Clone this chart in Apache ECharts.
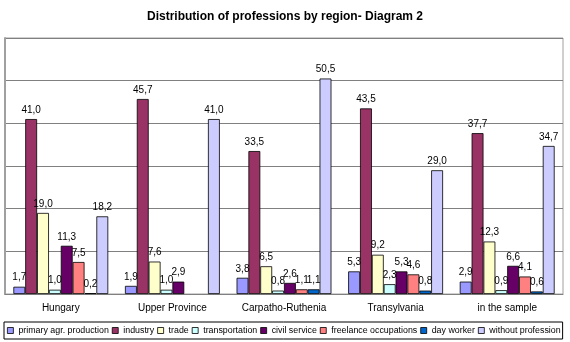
<!DOCTYPE html>
<html><head><meta charset="utf-8">
<script src="https://cdn.jsdelivr.net/npm/echarts@6/dist/echarts.min.js"></script>
<style>html,body{margin:0;padding:0;background:#fff}#c{width:570px;height:342px}</style>
</head><body><div id="c"></div>
<script>
const categories = ["Hungary", "Upper Province", "Carpatho-Ruthenia", "Transylvania", "in the sample"];
const seriesNames = ["primary agr. production", "industry", "trade", "transportation", "civil service", "freelance occupations", "day worker", "without profession"];
const primaryAgr = [1.7, 1.9, 3.8, 5.3, 2.9];
const industry = [41.0, 45.7, 33.5, 43.5, 37.7];
const trade = [19.0, 7.6, 6.5, 9.2, 12.3];
const transportation = [1.0, 1.0, 0.8, 2.3, 0.9];
const civilService = [11.3, 2.9, 2.6, 5.3, 6.6];
const freelance = [7.5, null, 1.1, 4.6, 4.1];
const dayWorker = [0.2, null, 1.1, 0.8, 0.6];
const withoutProfession = [18.2, 41.0, 50.5, 29.0, 34.7];
const colors = ["#9999FF", "#993366", "#FFFFCC", "#CCFFFF", "#660066", "#FF8080", "#0066CC", "#CCCCFF"];
const allData = [primaryAgr, industry, trade, transportation, civilService, freelance, dayWorker, withoutProfession];

const chart = echarts.init(document.getElementById('c'), null, {renderer: 'canvas'});
chart.setOption({
  animation: false,
  color: colors,
  title: {
    text: "Distribution of professions by region- Diagram 2",
    left: 'center', top: 6,
    textStyle: {fontFamily: 'Arial, Liberation Sans', fontSize: 12, fontWeight: 'bold', color: '#000'}
  },
  legend: {
    bottom: 3, left: 4, width: 700,
    itemWidth: 6, itemHeight: 6, itemGap: 3,
    icon: 'rect',
    borderColor: '#000', borderWidth: 1, padding: [4, 2, 4, 3],
    textStyle: {fontFamily: 'Arial, Liberation Sans', fontSize: 8.85, color: '#000'},
    itemStyle: {borderColor: '#000', borderWidth: 0.8},
    data: seriesNames
  },
  grid: {left: 5, right: 7, top: 38, bottom: 48, show: true, borderColor: '#a0a0a0', borderWidth: 1},
  xAxis: {
    type: 'category', data: categories,
    axisLine: {lineStyle: {color: '#808080'}},
    axisTick: {length: 4, lineStyle: {color: '#808080'}},
    axisLabel: {fontFamily: 'Arial, Liberation Sans', fontSize: 10, color: '#000', margin: 9}
  },
  yAxis: {
    type: 'value', min: 0, max: 60, interval: 10,
    axisLabel: {show: false},
    axisLine: {show: true, lineStyle: {color: '#a0a0a0', width: 2}},
    axisTick: {show: false},
    splitLine: {lineStyle: {color: '#808080'}}
  },
  series: seriesNames.map((n, i) => ({
    name: n, type: 'bar', data: allData[i],
    barGap: '0%', barCategoryGap: '15%',
    itemStyle: {borderColor: '#000', borderWidth: 0.8},
    label: {
      show: true, position: 'top', distance: 4,
      fontFamily: 'Arial, Liberation Sans', fontSize: 10, color: '#000',
      formatter: p => p.value == null ? '' : p.value.toFixed(1).replace('.', ',')
    }
  }))
});
</script></body></html>
